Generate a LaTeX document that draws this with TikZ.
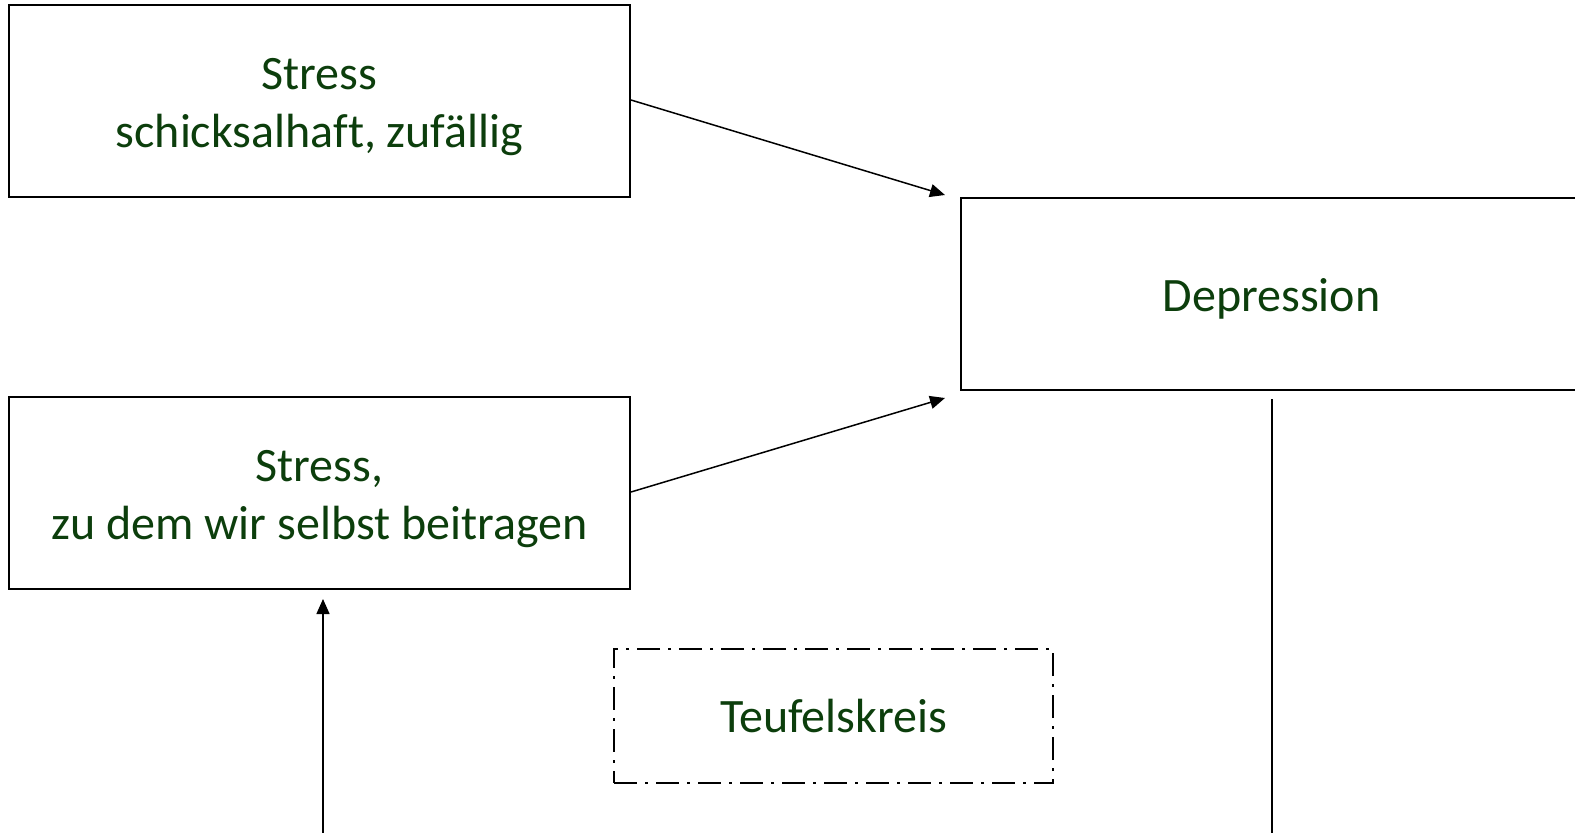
\documentclass[tikz,border=0pt]{standalone}
\usepackage{fontspec}
\setmainfont[Ligatures=NoCommon]{Carlito}
\usetikzlibrary{arrows.meta,calc}
\definecolor{txtgreen}{RGB}{12,62,12}
\newcommand\boxtxt[1]{\raisebox{-6pt}[\height][\depth]{\begin{tabular}{@{}c@{}}#1\end{tabular}}}
\tikzset{
  box/.style={draw=black, line width=2pt, rectangle, minimum width=621pt, minimum height=192pt,
    inner sep=0pt, text=txtgreen, font=\fontsize{48}{58}\selectfont},
  dashbox/.style={draw=black, line width=2pt, rectangle, minimum width=439pt, minimum height=134pt,
    inner sep=0pt, align=center, text=txtgreen, font=\fontsize{48}{58}\selectfont,
    dash pattern=on 23pt off 8pt on 3pt off 8pt},
  conn/.style={draw=black, line width=1.5pt},
  arr/.style={conn, -{Triangle[length=15pt,width=13pt]}}
}
\begin{document}
\begin{tikzpicture}[x=1pt,y=-1pt]
\useasboundingbox (0,0) rectangle (1575,833);
\clip (0,0) rectangle (1575,833);
\node[box] (s1) at (319.5,101) {\boxtxt{Stress\\schicksalhaft, zufällig}};
\node[box] (s2) at (319.5,493) {\boxtxt{Stress,\\zu dem wir selbst beitragen}};
\node[box] (dep) at (1271.5,294) {\boxtxt{Depression}};
\node[dashbox] (tk) at (833.5,716) {Teufelskreis};
\coordinate (t1) at ($(dep.north west)+(-15,-2)$);
\coordinate (t2) at ($(dep.south west)+(-15,7)$);
\coordinate (bl) at (323,850);
\coordinate (br) at (1272,850);
\coordinate (s2in) at ($(s2.south)+(3.5,9)$);
\coordinate (depout) at ($(dep.south)+(0.5,8)$);
\draw[arr] ($(s1.east)+(0,-1)$) -- (t1);
\draw[arr] ($(s2.east)+(0,-1)$) -- (t2);
\draw[arr] (bl) -- (s2in);
\draw[conn] (depout) -- (br);
\end{tikzpicture}
\end{document}
